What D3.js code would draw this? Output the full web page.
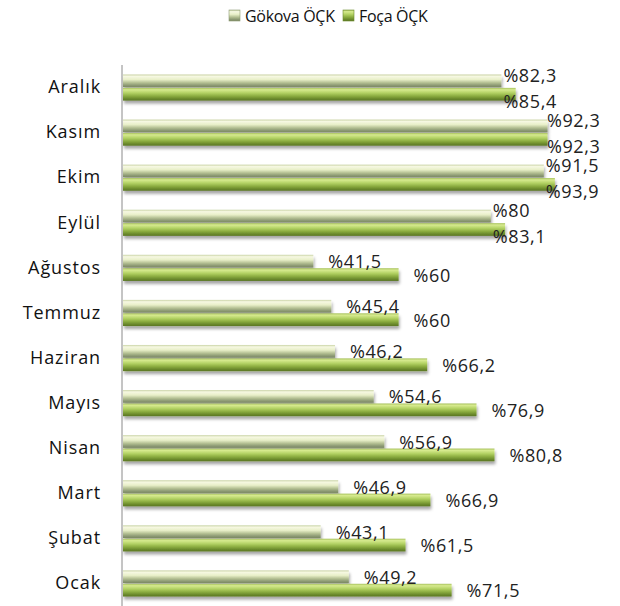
<!DOCTYPE html>
<html>
<head>
<meta charset="utf-8">
<script src="https://cdn.jsdelivr.net/npm/d3@7"></script>
<style>
  body { margin: 0; background: #fff; }
  svg { display: block; }
</style>
</head>
<body>
<svg id="chart"></svg>
<script>
// data (Ocak .. Aralık)
const months = ["Ocak", "Şubat", "Mart", "Nisan", "Mayıs", "Haziran", "Temmuz", "Ağustos", "Eylül", "Ekim", "Kasım", "Aralık"];
const seriesNames = ["Gökova ÖÇK", "Foça ÖÇK"];
const gokova = [49.2, 43.1, 46.9, 56.9, 54.6, 46.2, 45.4, 41.5, 80, 91.5, 92.3, 82.3];
const foca = [71.5, 61.5, 66.9, 80.8, 76.9, 66.2, 60, 60, 83.1, 93.9, 92.3, 85.4];

const w = 620, h = 606;
const svg = d3.select("#chart").attr("width", w).attr("height", h);
const font = "'Open Sans', sans-serif";

// gradients for the tube look
const defs = svg.append("defs");
function grad(id, stops) {
  const g = defs.append("linearGradient").attr("id", id)
    .attr("x1", 0).attr("y1", 0).attr("x2", 0).attr("y2", 1);
  stops.forEach(s => g.append("stop").attr("offset", s[0]).attr("stop-color", s[1]));
}
grad("g0", [[0, "#c9d3a6"], [0.15, "#f6f8e2"], [0.4, "#e8efc8"], [0.65, "#b3bf92"], [0.85, "#8d9a74"], [1, "#7b8763"]]);
grad("g1", [[0, "#a8c25e"], [0.15, "#d6ea8e"], [0.4, "#b2d163"], [0.65, "#8aab3f"], [0.85, "#6b8a2c"], [1, "#5b7624"]]);
const shadow = defs.append("filter").attr("id", "sh")
  .attr("x", "-5%").attr("y", "-30%").attr("width", "110%").attr("height", "180%");
shadow.append("feDropShadow").attr("dx", 1).attr("dy", 3)
  .attr("stdDeviation", 1.6).attr("flood-color", "#000").attr("flood-opacity", 0.35);

// scales
const x = d3.scaleLinear().domain([0, 100]).range([122, 583]);
const y = d3.scaleBand().domain(months.slice().reverse())
  .range([65, 606]).paddingInner(0.42).paddingOuter(0.21);
const ySub = d3.scaleBand().domain([0, 1]).range([0, y.bandwidth()]).paddingInner(0.05);

const rows = [];
months.forEach((m, i) => {
  rows.push({ m, s: 0, v: gokova[i], o: foca[i] });
  rows.push({ m, s: 1, v: foca[i], o: gokova[i] });
});

// bars
svg.append("g").selectAll("rect")
  .data(rows)
  .join("rect")
  .attr("x", x(0) + 1)
  .attr("y", d => y(d.m) + ySub(d.s))
  .attr("width", d => x(d.v) - x(0) - 1)
  .attr("height", ySub.bandwidth())
  .attr("fill", d => `url(#g${d.s})`)
  .attr("filter", "url(#sh)");

// category axis
svg.append("g")
  .attr("transform", `translate(${x(0)},0)`)
  .call(d3.axisLeft(y).tickSize(0).tickPadding(21))
  .call(g => g.select(".domain").attr("stroke", "#8a8a8a").attr("d", "M0,65V606"))
  .call(g => g.selectAll("text")
    .attr("font-family", font).attr("font-size", 18)
    .attr("letter-spacing", 0.9).attr("fill", "#111"));

// value labels
const fmt = v => "%" + String(v).replace(".", ",");
const labW = 61;
svg.append("g").selectAll("text")
  .data(rows)
  .join("text")
  .attr("font-family", font).attr("font-size", 18).attr("letter-spacing", 0.6)
  .attr("fill", "#222")
  .attr("dominant-baseline", "central")
  .text(d => fmt(d.v))
  .each(function (d) {
    const g = d.s === 0 ? d.v : d.o, f = d.s === 0 ? d.o : d.v;
    let lx = x(d.v) + 15;
    let ly = y(d.m) + ySub(d.s) + ySub.bandwidth() / 2;
    // labels of the pair collide: stack them at one x
    if (x(f) + 15 < x(g) + 15 + labW) {
      lx = Math.min(x(g) + 2, 608 - labW);
      ly += d.s === 0 ? -6 : 7;
    }
    d3.select(this).attr("x", lx).attr("y", ly);
  });

// legend
const leg = svg.append("g");
const legX = [229, 343];
seriesNames.forEach((n, i) => {
  leg.append("rect").attr("x", legX[i]).attr("y", 10).attr("width", 11).attr("height", 11)
    .attr("fill", `url(#g${i})`).attr("stroke", i ? "#6b8a2c" : "#8d9a74").attr("stroke-width", 0.6);
  leg.append("text").attr("x", legX[i] + 16).attr("y", 16)
    .attr("dominant-baseline", "central")
    .attr("font-family", font).attr("font-size", 16).attr("letter-spacing", -0.3)
    .attr("fill", "#111").text(n);
});
</script>
</body>
</html>
